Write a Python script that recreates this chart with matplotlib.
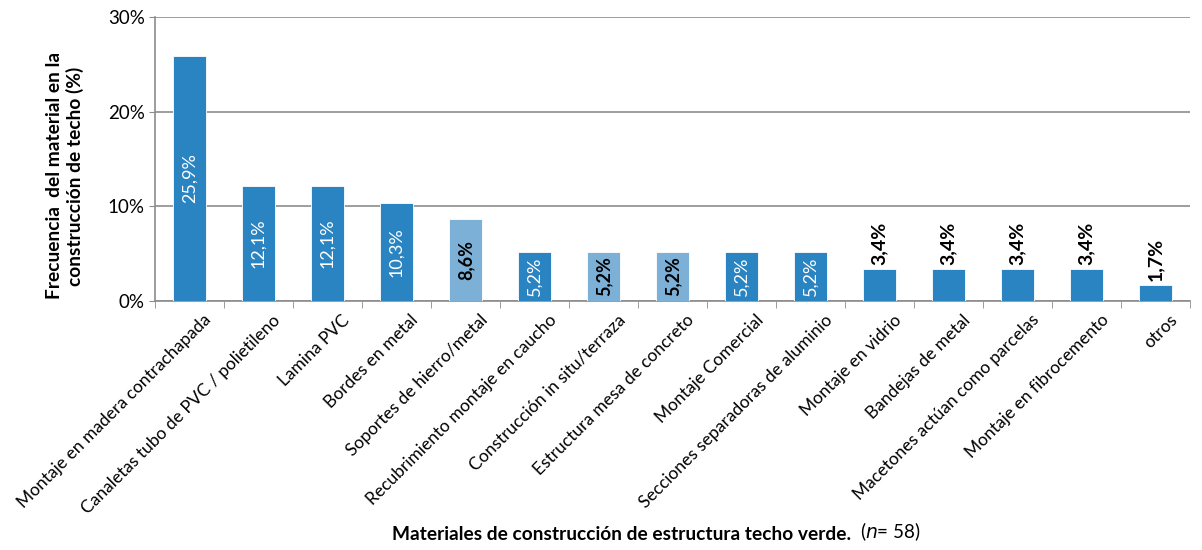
import matplotlib.pyplot as plt
import numpy as np

plt.rcParams['font.family'] = ['Lato', 'DejaVu Sans']

# ======================== datos ==============================
categorias = ['Montaje en madera contrachapada', 'Canaletas tubo de PVC / polietileno',
              'Lamina PVC', 'Bordes en metal', 'Soportes de hierro/metal',
              'Recubrimiento montaje en caucho', 'Construcción in situ/terraza',
              'Estructura mesa de concreto', 'Montaje Comercial',
              'Secciones separadoras de aluminio', 'Montaje en vidrio',
              'Bandejas de metal', 'Macetones actúan como parcelas',
              'Montaje en fibrocemento', 'otros']
valores = [25.9, 12.1, 12.1, 10.3, 8.6, 5.2, 5.2, 5.2, 5.2, 5.2, 3.4, 3.4, 3.4, 3.4, 1.7]
claros = [4, 6, 7]  # barras en azul claro

azul = '#2A84C2'
azul_claro = '#7DB0D6'

fig = plt.figure(figsize=(12.02, 5.5), dpi=100)
ax = fig.add_axes([0.129, 0.453, 0.861, 0.516])

x = np.arange(len(categorias))
colores = [azul_claro if i in claros else azul for i in x]
bars = ax.bar(x, valores, width=0.48, color=colores, edgecolor='white', linewidth=0.6, zorder=3)

for i, v in enumerate(valores):
    txt = ('%.1f%%' % v).replace('.', ',')
    if v < 4:
        ax.text(i, v + 0.4, txt, rotation=90, ha='center', va='bottom',
                fontsize=14, fontweight='bold', color='black', zorder=4)
    elif i in claros:
        ax.text(i, v / 2, txt, rotation=90, ha='center', va='center',
                fontsize=13, fontweight='bold', color='black', zorder=4)
    else:
        ax.text(i, v / 2, txt, rotation=90, ha='center', va='center',
                fontsize=13, color='white', zorder=4)

ax.set_xlim(-0.5, len(categorias) - 0.5)
ax.set_ylim(0, 30)
ax.set_yticks([0, 10, 20, 30])
ax.set_yticklabels(['0%', '10%', '20%', '30%'], fontsize=13.5)
ax.yaxis.grid(True, color='#8c8c8c', linewidth=1.2, zorder=0)

ax.set_xticks(x + 0.2)
ax.set_xticklabels(categorias, rotation=45, ha='right', rotation_mode='anchor', fontsize=12.5)
ax.tick_params(axis='x', length=0, pad=8)
ax.set_xticks(np.arange(-0.5, len(categorias), 1), minor=True)
ax.tick_params(axis='x', which='minor', length=5, color='#8c8c8c')
ax.tick_params(axis='y', length=4, color='#8c8c8c')

for s in ['top', 'right']:
    ax.spines[s].set_visible(False)
for s in ['left', 'bottom']:
    ax.spines[s].set_color('#8c8c8c')
    ax.spines[s].set_linewidth(1.2)

ax.set_ylabel('Frecuencia  del material en la\nconstrucción de techo (%)',
              fontsize=13.8, fontweight='bold', multialignment='center')
ax.yaxis.set_label_coords(-0.069, 0.44)

fig.text(0.326, 0.012, 'Materiales de construcción de estructura techo verde.',
         ha='left', va='bottom', fontsize=13.8, fontweight='bold')
fig.text(0.7155, 0.012, '($n$= 58)', ha='left', va='bottom', fontsize=13.5)

fig.savefig('out.png', dpi=100)
